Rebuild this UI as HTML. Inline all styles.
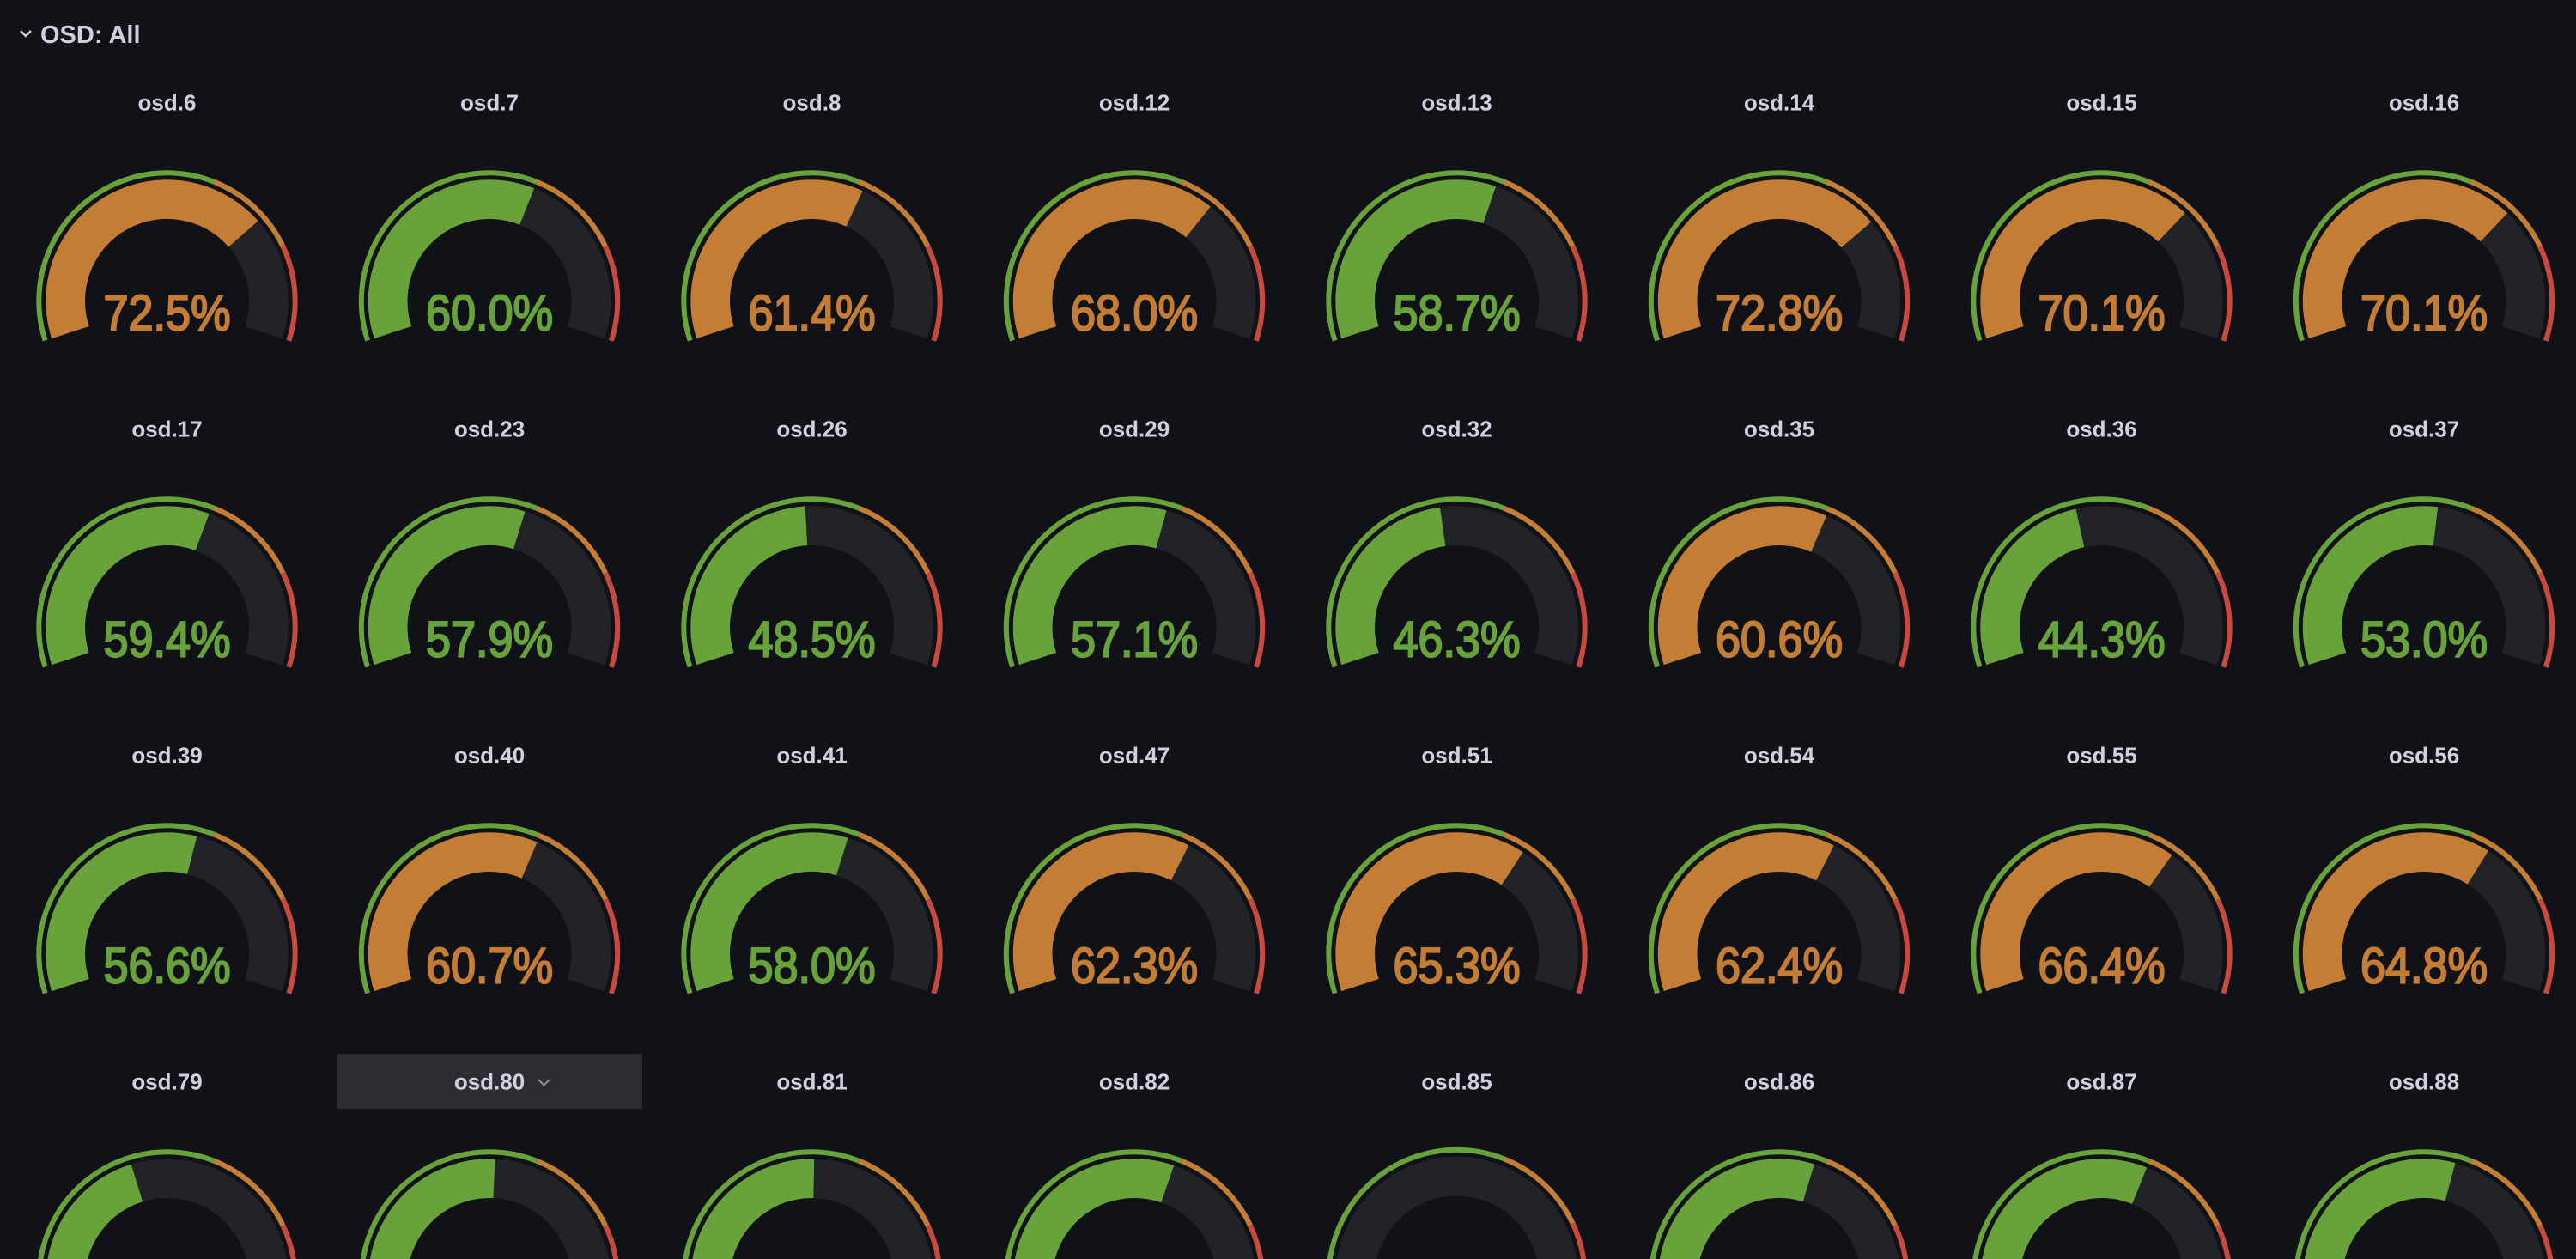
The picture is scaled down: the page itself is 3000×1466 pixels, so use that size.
<!DOCTYPE html>
<html>
<head>
<meta charset="utf-8">
<style>
html,body{margin:0;padding:0;background:#111217;width:3000px;height:1466px;overflow:hidden;}
svg{display:block;overflow:hidden;}
.t{fill:none;stroke-width:6;}
.tg{stroke:#68a23a;stroke-dasharray:337.5 2000;}
.to{stroke:#c47d35;stroke-dasharray:0 337.5 112.5 2000;}
.tr{stroke:#c84a3e;stroke-dasharray:0 450 112.5 2000;}
.b{fill:none;stroke:#222328;stroke-width:45.7;stroke-dasharray:446.2 2000;}
.f{fill:none;stroke-width:45.7;}
.fg{stroke:#68a23a;}
.fo{stroke:#c47d35;}
.v{font-family:"Liberation Sans",Arial,sans-serif;font-size:58px;text-anchor:middle;stroke-width:2.2;}
.vg{fill:#68a23a;stroke:#68a23a;}
.vo{fill:#c47d35;stroke:#c47d35;}
.ttl{font-family:"Liberation Sans",Arial,sans-serif;font-size:26px;font-weight:bold;fill:#d0d1dc;text-anchor:middle;}
.hdr{font-family:"Liberation Sans",Arial,sans-serif;font-size:29px;font-weight:bold;fill:#d0d1dc;}
</style>
</head>
<body>
<svg width="3000" height="1466" viewBox="0 0 3000 1466" xmlns="http://www.w3.org/2000/svg">
<rect width="3000" height="1466" fill="#111217"/>
<polyline points="24,36 30,42 36,36" fill="none" stroke="#d0d1dc" stroke-width="2.5"/>
<text class="hdr" x="47" y="50">OSD: All</text>

<rect x="392" y="1227" width="356" height="64" fill="#2c2d33"/>
<polyline points="627,1257 633.5,1263.5 640,1257" fill="none" stroke="#8e8f97" stroke-width="2"/>

<text class="ttl" x="194.5" y="128.3">osd.6</text>
<g transform="translate(194.5 350.5)"><g transform="rotate(162)"><circle class="t tg" r="149.2"/><circle class="t to" r="149.2"/><circle class="t tr" r="149.2"/><circle class="b" r="118.35"/><circle class="f fo" r="118.35" stroke-dasharray="323.5 2000"/></g><text class="v vo" y="34" textLength="148" lengthAdjust="spacingAndGlyphs">72.5%</text></g>

<text class="ttl" x="570" y="128.3">osd.7</text>
<g transform="translate(570 350.5)"><g transform="rotate(162)"><circle class="t tg" r="149.2"/><circle class="t to" r="149.2"/><circle class="t tr" r="149.2"/><circle class="b" r="118.35"/><circle class="f fg" r="118.35" stroke-dasharray="267.7 2000"/></g><text class="v vg" y="34" textLength="148" lengthAdjust="spacingAndGlyphs">60.0%</text></g>

<text class="ttl" x="945.5" y="128.3">osd.8</text>
<g transform="translate(945.5 350.5)"><g transform="rotate(162)"><circle class="t tg" r="149.2"/><circle class="t to" r="149.2"/><circle class="t tr" r="149.2"/><circle class="b" r="118.35"/><circle class="f fo" r="118.35" stroke-dasharray="274.0 2000"/></g><text class="v vo" y="34" textLength="148" lengthAdjust="spacingAndGlyphs">61.4%</text></g>

<text class="ttl" x="1321" y="128.3">osd.12</text>
<g transform="translate(1321 350.5)"><g transform="rotate(162)"><circle class="t tg" r="149.2"/><circle class="t to" r="149.2"/><circle class="t tr" r="149.2"/><circle class="b" r="118.35"/><circle class="f fo" r="118.35" stroke-dasharray="303.4 2000"/></g><text class="v vo" y="34" textLength="148" lengthAdjust="spacingAndGlyphs">68.0%</text></g>

<text class="ttl" x="1696.5" y="128.3">osd.13</text>
<g transform="translate(1696.5 350.5)"><g transform="rotate(162)"><circle class="t tg" r="149.2"/><circle class="t to" r="149.2"/><circle class="t tr" r="149.2"/><circle class="b" r="118.35"/><circle class="f fg" r="118.35" stroke-dasharray="261.9 2000"/></g><text class="v vg" y="34" textLength="148" lengthAdjust="spacingAndGlyphs">58.7%</text></g>

<text class="ttl" x="2072" y="128.3">osd.14</text>
<g transform="translate(2072 350.5)"><g transform="rotate(162)"><circle class="t tg" r="149.2"/><circle class="t to" r="149.2"/><circle class="t tr" r="149.2"/><circle class="b" r="118.35"/><circle class="f fo" r="118.35" stroke-dasharray="324.8 2000"/></g><text class="v vo" y="34" textLength="148" lengthAdjust="spacingAndGlyphs">72.8%</text></g>

<text class="ttl" x="2447.5" y="128.3">osd.15</text>
<g transform="translate(2447.5 350.5)"><g transform="rotate(162)"><circle class="t tg" r="149.2"/><circle class="t to" r="149.2"/><circle class="t tr" r="149.2"/><circle class="b" r="118.35"/><circle class="f fo" r="118.35" stroke-dasharray="312.8 2000"/></g><text class="v vo" y="34" textLength="148" lengthAdjust="spacingAndGlyphs">70.1%</text></g>

<text class="ttl" x="2823" y="128.3">osd.16</text>
<g transform="translate(2823 350.5)"><g transform="rotate(162)"><circle class="t tg" r="149.2"/><circle class="t to" r="149.2"/><circle class="t tr" r="149.2"/><circle class="b" r="118.35"/><circle class="f fo" r="118.35" stroke-dasharray="312.8 2000"/></g><text class="v vo" y="34" textLength="148" lengthAdjust="spacingAndGlyphs">70.1%</text></g>

<text class="ttl" x="194.5" y="508.3">osd.17</text>
<g transform="translate(194.5 730.5)"><g transform="rotate(162)"><circle class="t tg" r="149.2"/><circle class="t to" r="149.2"/><circle class="t tr" r="149.2"/><circle class="b" r="118.35"/><circle class="f fg" r="118.35" stroke-dasharray="265.0 2000"/></g><text class="v vg" y="34" textLength="148" lengthAdjust="spacingAndGlyphs">59.4%</text></g>

<text class="ttl" x="570" y="508.3">osd.23</text>
<g transform="translate(570 730.5)"><g transform="rotate(162)"><circle class="t tg" r="149.2"/><circle class="t to" r="149.2"/><circle class="t tr" r="149.2"/><circle class="b" r="118.35"/><circle class="f fg" r="118.35" stroke-dasharray="258.3 2000"/></g><text class="v vg" y="34" textLength="148" lengthAdjust="spacingAndGlyphs">57.9%</text></g>

<text class="ttl" x="945.5" y="508.3">osd.26</text>
<g transform="translate(945.5 730.5)"><g transform="rotate(162)"><circle class="t tg" r="149.2"/><circle class="t to" r="149.2"/><circle class="t tr" r="149.2"/><circle class="b" r="118.35"/><circle class="f fg" r="118.35" stroke-dasharray="216.4 2000"/></g><text class="v vg" y="34" textLength="148" lengthAdjust="spacingAndGlyphs">48.5%</text></g>

<text class="ttl" x="1321" y="508.3">osd.29</text>
<g transform="translate(1321 730.5)"><g transform="rotate(162)"><circle class="t tg" r="149.2"/><circle class="t to" r="149.2"/><circle class="t tr" r="149.2"/><circle class="b" r="118.35"/><circle class="f fg" r="118.35" stroke-dasharray="254.8 2000"/></g><text class="v vg" y="34" textLength="148" lengthAdjust="spacingAndGlyphs">57.1%</text></g>

<text class="ttl" x="1696.5" y="508.3">osd.32</text>
<g transform="translate(1696.5 730.5)"><g transform="rotate(162)"><circle class="t tg" r="149.2"/><circle class="t to" r="149.2"/><circle class="t tr" r="149.2"/><circle class="b" r="118.35"/><circle class="f fg" r="118.35" stroke-dasharray="206.6 2000"/></g><text class="v vg" y="34" textLength="148" lengthAdjust="spacingAndGlyphs">46.3%</text></g>

<text class="ttl" x="2072" y="508.3">osd.35</text>
<g transform="translate(2072 730.5)"><g transform="rotate(162)"><circle class="t tg" r="149.2"/><circle class="t to" r="149.2"/><circle class="t tr" r="149.2"/><circle class="b" r="118.35"/><circle class="f fo" r="118.35" stroke-dasharray="270.4 2000"/></g><text class="v vo" y="34" textLength="148" lengthAdjust="spacingAndGlyphs">60.6%</text></g>

<text class="ttl" x="2447.5" y="508.3">osd.36</text>
<g transform="translate(2447.5 730.5)"><g transform="rotate(162)"><circle class="t tg" r="149.2"/><circle class="t to" r="149.2"/><circle class="t tr" r="149.2"/><circle class="b" r="118.35"/><circle class="f fg" r="118.35" stroke-dasharray="197.7 2000"/></g><text class="v vg" y="34" textLength="148" lengthAdjust="spacingAndGlyphs">44.3%</text></g>

<text class="ttl" x="2823" y="508.3">osd.37</text>
<g transform="translate(2823 730.5)"><g transform="rotate(162)"><circle class="t tg" r="149.2"/><circle class="t to" r="149.2"/><circle class="t tr" r="149.2"/><circle class="b" r="118.35"/><circle class="f fg" r="118.35" stroke-dasharray="236.5 2000"/></g><text class="v vg" y="34" textLength="148" lengthAdjust="spacingAndGlyphs">53.0%</text></g>

<text class="ttl" x="194.5" y="888.3">osd.39</text>
<g transform="translate(194.5 1110.5)"><g transform="rotate(162)"><circle class="t tg" r="149.2"/><circle class="t to" r="149.2"/><circle class="t tr" r="149.2"/><circle class="b" r="118.35"/><circle class="f fg" r="118.35" stroke-dasharray="252.5 2000"/></g><text class="v vg" y="34" textLength="148" lengthAdjust="spacingAndGlyphs">56.6%</text></g>

<text class="ttl" x="570" y="888.3">osd.40</text>
<g transform="translate(570 1110.5)"><g transform="rotate(162)"><circle class="t tg" r="149.2"/><circle class="t to" r="149.2"/><circle class="t tr" r="149.2"/><circle class="b" r="118.35"/><circle class="f fo" r="118.35" stroke-dasharray="270.8 2000"/></g><text class="v vo" y="34" textLength="148" lengthAdjust="spacingAndGlyphs">60.7%</text></g>

<text class="ttl" x="945.5" y="888.3">osd.41</text>
<g transform="translate(945.5 1110.5)"><g transform="rotate(162)"><circle class="t tg" r="149.2"/><circle class="t to" r="149.2"/><circle class="t tr" r="149.2"/><circle class="b" r="118.35"/><circle class="f fg" r="118.35" stroke-dasharray="258.8 2000"/></g><text class="v vg" y="34" textLength="148" lengthAdjust="spacingAndGlyphs">58.0%</text></g>

<text class="ttl" x="1321" y="888.3">osd.47</text>
<g transform="translate(1321 1110.5)"><g transform="rotate(162)"><circle class="t tg" r="149.2"/><circle class="t to" r="149.2"/><circle class="t tr" r="149.2"/><circle class="b" r="118.35"/><circle class="f fo" r="118.35" stroke-dasharray="278.0 2000"/></g><text class="v vo" y="34" textLength="148" lengthAdjust="spacingAndGlyphs">62.3%</text></g>

<text class="ttl" x="1696.5" y="888.3">osd.51</text>
<g transform="translate(1696.5 1110.5)"><g transform="rotate(162)"><circle class="t tg" r="149.2"/><circle class="t to" r="149.2"/><circle class="t tr" r="149.2"/><circle class="b" r="118.35"/><circle class="f fo" r="118.35" stroke-dasharray="291.4 2000"/></g><text class="v vo" y="34" textLength="148" lengthAdjust="spacingAndGlyphs">65.3%</text></g>

<text class="ttl" x="2072" y="888.3">osd.54</text>
<g transform="translate(2072 1110.5)"><g transform="rotate(162)"><circle class="t tg" r="149.2"/><circle class="t to" r="149.2"/><circle class="t tr" r="149.2"/><circle class="b" r="118.35"/><circle class="f fo" r="118.35" stroke-dasharray="278.4 2000"/></g><text class="v vo" y="34" textLength="148" lengthAdjust="spacingAndGlyphs">62.4%</text></g>

<text class="ttl" x="2447.5" y="888.3">osd.55</text>
<g transform="translate(2447.5 1110.5)"><g transform="rotate(162)"><circle class="t tg" r="149.2"/><circle class="t to" r="149.2"/><circle class="t tr" r="149.2"/><circle class="b" r="118.35"/><circle class="f fo" r="118.35" stroke-dasharray="296.3 2000"/></g><text class="v vo" y="34" textLength="148" lengthAdjust="spacingAndGlyphs">66.4%</text></g>

<text class="ttl" x="2823" y="888.3">osd.56</text>
<g transform="translate(2823 1110.5)"><g transform="rotate(162)"><circle class="t tg" r="149.2"/><circle class="t to" r="149.2"/><circle class="t tr" r="149.2"/><circle class="b" r="118.35"/><circle class="f fo" r="118.35" stroke-dasharray="289.1 2000"/></g><text class="v vo" y="34" textLength="148" lengthAdjust="spacingAndGlyphs">64.8%</text></g>

<text class="ttl" x="194.5" y="1268.3">osd.79</text>
<g transform="translate(194.5 1490.5)"><g transform="rotate(162)"><circle class="t tg" r="149.2"/><circle class="t to" r="149.2"/><circle class="t tr" r="149.2"/><circle class="b" r="118.35"/><circle class="f fg" r="118.35" stroke-dasharray="187.4 2000"/></g></g>

<text class="ttl" x="570" y="1268.3">osd.80</text>
<g transform="translate(570 1490.5)"><g transform="rotate(162)"><circle class="t tg" r="149.2"/><circle class="t to" r="149.2"/><circle class="t tr" r="149.2"/><circle class="b" r="118.35"/><circle class="f fg" r="118.35" stroke-dasharray="228.5 2000"/></g></g>

<text class="ttl" x="945.5" y="1268.3">osd.81</text>
<g transform="translate(945.5 1490.5)"><g transform="rotate(162)"><circle class="t tg" r="149.2"/><circle class="t to" r="149.2"/><circle class="t tr" r="149.2"/><circle class="b" r="118.35"/><circle class="f fg" r="118.35" stroke-dasharray="225.3 2000"/></g></g>

<text class="ttl" x="1321" y="1268.3">osd.82</text>
<g transform="translate(1321 1490.5)"><g transform="rotate(162)"><circle class="t tg" r="149.2"/><circle class="t to" r="149.2"/><circle class="t tr" r="149.2"/><circle class="b" r="118.35"/><circle class="f fg" r="118.35" stroke-dasharray="262.4 2000"/></g></g>

<text class="ttl" x="1696.5" y="1268.3">osd.85</text>
<g transform="translate(1696.5 1488)"><g transform="rotate(162)"><circle class="t tg" r="149.2"/><circle class="t to" r="149.2"/><circle class="t tr" r="149.2"/><circle class="b" r="118.35"/></g></g>

<text class="ttl" x="2072" y="1268.3">osd.86</text>
<g transform="translate(2072 1490.5)"><g transform="rotate(162)"><circle class="t tg" r="149.2"/><circle class="t to" r="149.2"/><circle class="t tr" r="149.2"/><circle class="b" r="118.35"/><circle class="f fg" r="118.35" stroke-dasharray="257.9 2000"/></g></g>

<text class="ttl" x="2447.5" y="1268.3">osd.87</text>
<g transform="translate(2447.5 1490.5)"><g transform="rotate(162)"><circle class="t tg" r="149.2"/><circle class="t to" r="149.2"/><circle class="t tr" r="149.2"/><circle class="b" r="118.35"/><circle class="f fg" r="118.35" stroke-dasharray="268.2 2000"/></g></g>

<text class="ttl" x="2823" y="1268.3">osd.88</text>
<g transform="translate(2823 1490.5)"><g transform="rotate(162)"><circle class="t tg" r="149.2"/><circle class="t to" r="149.2"/><circle class="t tr" r="149.2"/><circle class="b" r="118.35"/><circle class="f fg" r="118.35" stroke-dasharray="253.9 2000"/></g></g>
</svg>
</body>
</html>
